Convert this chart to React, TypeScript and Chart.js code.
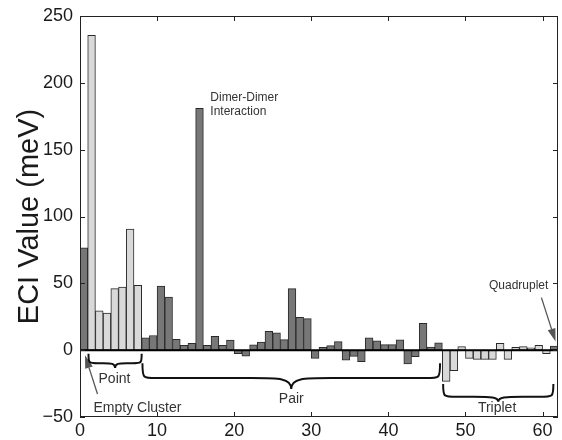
import React, { useEffect, useRef } from "react";
import { Chart, registerables } from "chart.js";

Chart.register(...registerables);

// ECI values (meV), one per cluster, in order
const eciValues = [
  76.5, 235.5, 29.5, 27.7, 46, 47.2, 90.5, 48.5, 9.3, 11, 48, 39.8, 8.1, 3.7, 5.2, 181,
  3.7, 10.3, 3.7, 7.5, -2.7, -4.4, 3.9, 6.1, 14, 13, 7.9, 46, 24.6, 23.6, -6.1, 2.2,
  3.4, 6.4, -7.4, -4.7, -8.6, 9.3, 6.9, 4.2, 4.2, 7.8, -10.3, -4.9, 20.1, 2.4, 5.4,
  -23.4, -15.3, 2.7, -6.2, -6.9, -6.9, -6.9, 5.1, -6.9, 2.2, 2.7, 1.7, 3.7, -2.7, 3,
];
const clusterGroups = ["Empty Cluster", "Point", "Pair", "Triplet", "Quadruplet"];
const clusterCounts = [1, 7, 39, 14, 1];
const groupShade = ["dark", "light", "dark", "light", "dark"];
const xTicks = [0, 10, 20, 30, 40, 50, 60];
const yTicks = [-50, 0, 50, 100, 150, 200, 250];

const FONT = "'Liberation Sans', Arial, Helvetica, sans-serif";
const shadeFill: Record<string, string> = { dark: "#777777", light: "#d9d9d9" };

function buildShades(): string[] {
  const out: string[] = [];
  clusterCounts.forEach((c, g) => {
    for (let i = 0; i < c; i++) out.push(groupShade[g]);
  });
  return out;
}

function drawBrace(ctx: CanvasRenderingContext2D, x1: number, x2: number, yTop: number, yBody: number, yTip: number) {
  const xm = (x1 + x2) / 2;
  const w = x2 - x1;
  const a = Math.min(14, w * 0.18);
  const b = Math.min(40, w * 0.22);
  ctx.beginPath();
  ctx.moveTo(x1, yTop);
  ctx.bezierCurveTo(x1, yBody, x1, yBody, x1 + a, yBody);
  ctx.lineTo(xm - b, yBody);
  ctx.bezierCurveTo(xm - b * 0.3, yBody, xm, yBody, xm, yTip);
  ctx.bezierCurveTo(xm, yBody, xm + b * 0.3, yBody, xm + b, yBody);
  ctx.lineTo(x2 - a, yBody);
  ctx.bezierCurveTo(x2, yBody, x2, yBody, x2, yTop);
  ctx.stroke();
}

function drawArrow(ctx: CanvasRenderingContext2D, x0: number, y0: number, x1: number, y1: number) {
  const ang = Math.atan2(y1 - y0, x1 - x0);
  const hl = 13, hw = 4;
  const bx = x1 - hl * Math.cos(ang), by = y1 - hl * Math.sin(ang);
  ctx.beginPath();
  ctx.moveTo(x0, y0);
  ctx.lineTo(bx, by);
  ctx.stroke();
  ctx.beginPath();
  ctx.moveTo(x1, y1);
  ctx.lineTo(bx + hw * Math.sin(ang), by - hw * Math.cos(ang));
  ctx.lineTo(bx - hw * Math.sin(ang), by + hw * Math.cos(ang));
  ctx.closePath();
  ctx.fill();
}

const decorPlugin = {
  id: "decor",
  afterDraw(chart: any) {
    const { ctx, chartArea: a, scales } = chart;
    const x = scales.x, y = scales.y;
    const px = (v: number) => x.getPixelForValue(v);
    const py = (v: number) => y.getPixelForValue(v);
    ctx.save();
    // zero line
    ctx.strokeStyle = "#000";
    ctx.lineWidth = 2;
    ctx.beginPath();
    ctx.moveTo(a.left, py(0));
    ctx.lineTo(a.right, py(0));
    ctx.stroke();
    // box
    ctx.lineWidth = 1;
    ctx.strokeStyle = "#222";
    ctx.strokeRect(Math.round(a.left) + 0.5, Math.round(a.top) + 0.5, Math.round(a.width) - 1, Math.round(a.height) - 1);
    // inward ticks
    ctx.beginPath();
    xTicks.forEach((v) => {
      const p = Math.round(px(v)) + 0.5;
      ctx.moveTo(p, a.bottom);
      ctx.lineTo(p, a.bottom - 5);
      ctx.moveTo(p, a.top);
      ctx.lineTo(p, a.top + 5);
    });
    yTicks.forEach((v) => {
      const p = Math.round(py(v)) + 0.5;
      ctx.moveTo(a.left, p);
      ctx.lineTo(a.left + 5, p);
      ctx.moveTo(a.right, p);
      ctx.lineTo(a.right - 5, p);
    });
    ctx.stroke();

    // y title
    ctx.fillStyle = "#1a1a1a";
    ctx.font = `29px ${FONT}`;
    ctx.textAlign = "center";
    ctx.textBaseline = "middle";
    ctx.save();
    ctx.translate(30, (a.top + a.bottom) / 2);
    ctx.rotate(-Math.PI / 2);
    ctx.fillText("ECI Value (meV)", 0, 0);
    ctx.restore();

    // annotations
    ctx.fillStyle = "#333";
    ctx.font = `12px ${FONT}`;
    ctx.textAlign = "left";
    ctx.fillText("Dimer-Dimer", px(16.9), py(189));
    ctx.fillText("Interaction", px(16.9), py(178.6));
    ctx.textAlign = "right";
    ctx.fillText(clusterGroups[4], px(60.75), py(48.6));

    ctx.font = `14px ${FONT}`;
    ctx.textAlign = "left";
    ctx.fillText(clusterGroups[0], px(1.75), py(-43.7));
    ctx.fillText(clusterGroups[1], px(2.4), py(-21.6));
    ctx.textAlign = "center";
    ctx.fillText(clusterGroups[2], px(27.4), py(-36.3));
    ctx.fillText(clusterGroups[3], px(54.1), py(-43.7));

    // arrows
    ctx.strokeStyle = "#555";
    ctx.fillStyle = "#555";
    ctx.lineWidth = 1.3;
    drawArrow(ctx, px(59.85), py(39.3), px(61.68), py(6.5));
    drawArrow(ctx, px(2.27), py(-32.8), px(0.65), py(-3.8));

    // braces
    ctx.strokeStyle = "#111";
    ctx.lineWidth = 2;
    drawBrace(ctx, px(1.1), px(8.0), py(-2.7), py(-9.8), py(-13.4));
    drawBrace(ctx, px(8.1), px(46.7), py(-9.8), py(-20.9), py(-29));
    drawBrace(ctx, px(47.1), px(61.4), py(-25.3), py(-34.9), py(-38.6));
    ctx.restore();
  },
};

export default function App() {
  const ref = useRef<HTMLCanvasElement | null>(null);
  useEffect(() => {
    if (!ref.current) return;
    const shades = buildShades();
    const chart = new Chart(ref.current, {
      type: "bar",
      data: {
        datasets: [
          {
            data: eciValues.map((v, i) => ({ x: i + 0.5, y: v })),
            backgroundColor: shades.map((s) => shadeFill[s]),
            borderColor: "#2a2a2a",
            borderWidth: 1,
            barPercentage: 1,
            categoryPercentage: 1,
            borderSkipped: false,
          },
        ],
      },
      options: {
        animation: false,
        responsive: false,
        maintainAspectRatio: false,
        layout: { padding: { top: 10, right: 4, left: 0, bottom: 0 } },
        plugins: { legend: { display: false }, tooltip: { enabled: false } },
        scales: {
          x: {
            type: "linear",
            min: 0,
            max: 62,
            offset: false,
            grid: { display: false, drawTicks: false, offset: false },
            border: { display: false },
            afterBuildTicks: (s: any) => {
              s.ticks = xTicks.map((v) => ({ value: v }));
            },
            afterFit: (s: any) => {
              s.height = 23;
            },
            ticks: {
              font: { family: FONT, size: 18, lineHeight: 1 },
              color: "#1a1a1a",
              padding: 5,
              maxRotation: 0,
              autoSkip: false,
            },
          },
          y: {
            min: -50,
            max: 250,
            grid: { display: false, drawTicks: false },
            border: { display: false },
            afterBuildTicks: (s: any) => {
              s.ticks = yTicks.map((v) => ({ value: v }));
            },
            afterFit: (s: any) => {
              s.width = 80;
            },
            ticks: {
              font: { family: FONT, size: 18, lineHeight: 1 },
              color: "#1a1a1a",
              padding: 7,
              callback: (v: any) => String(v).replace("-", "\u2212"),
            },
          },
        },
      },
      plugins: [decorPlugin],
    });
    return () => chart.destroy();
  }, []);
  return (
    <div style={{ position: "fixed", left: 0, top: 0, width: 562, height: 440, background: "#fff" }}>
      <canvas ref={ref} width={562} height={440} style={{ width: 562, height: 440 }} />
    </div>
  );
}
